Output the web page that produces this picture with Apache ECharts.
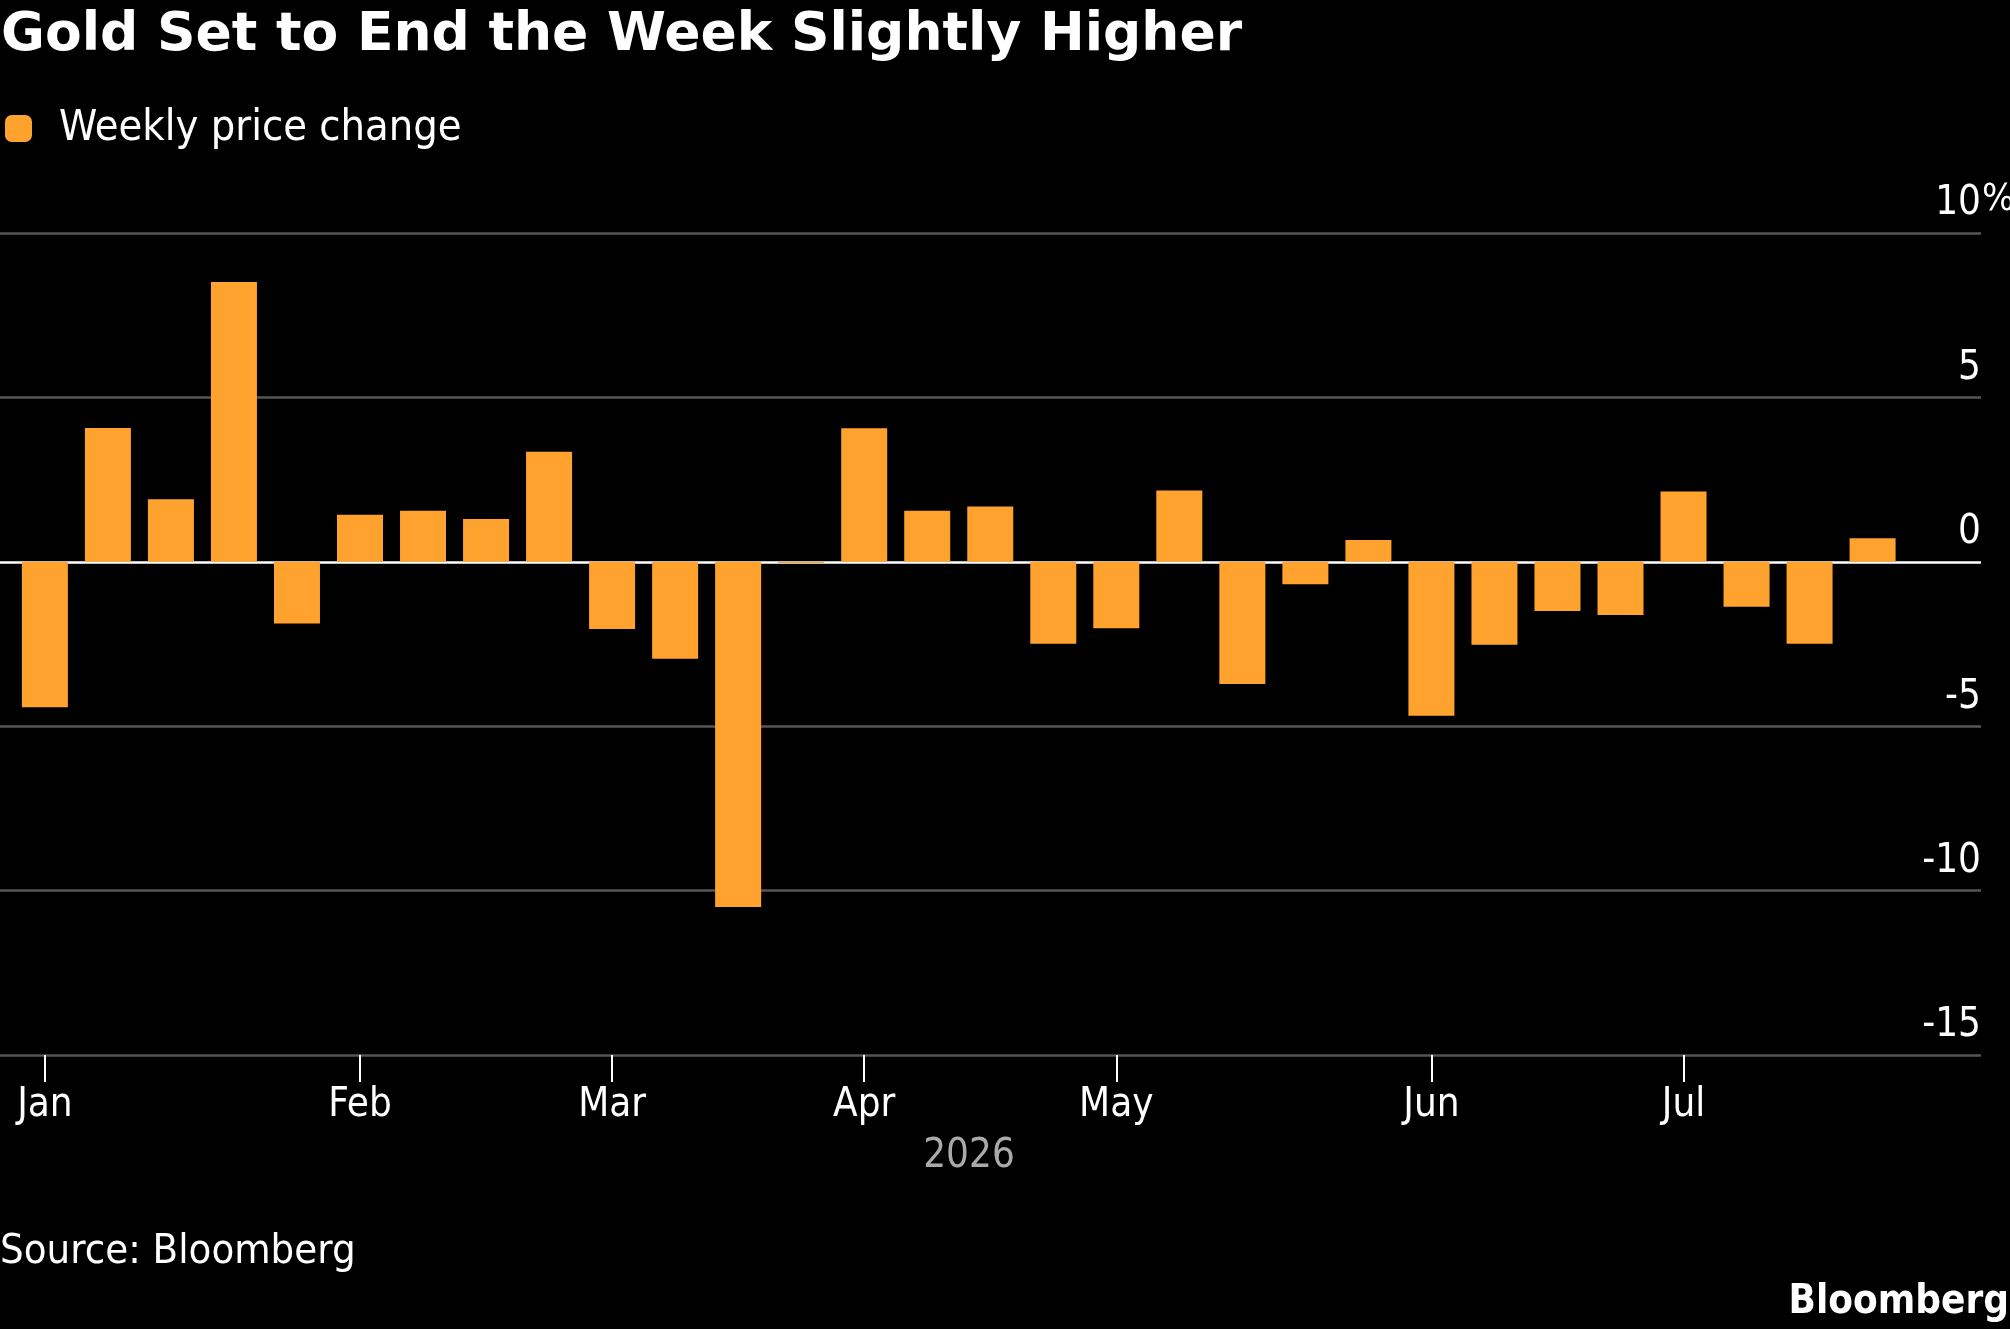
<!DOCTYPE html>
<html>
<head>
<meta charset="utf-8">
<script src="https://cdn.jsdelivr.net/npm/echarts@6/dist/echarts.min.js"></script>
<style>
  html, body { margin: 0; padding: 0; background: #000; }
  #main { width: 2010px; height: 1329px; }
</style>
</head>
<body>
<div id="main"></div>
<script>
// weekly gold price change, Fridays of 2026
const weeks = ['2026-01-02', '2026-01-09', '2026-01-16', '2026-01-23', '2026-01-30',
  '2026-02-06', '2026-02-13', '2026-02-20', '2026-02-27',
  '2026-03-06', '2026-03-13', '2026-03-20', '2026-03-27',
  '2026-04-03', '2026-04-10', '2026-04-17', '2026-04-24',
  '2026-05-01', '2026-05-08', '2026-05-15', '2026-05-22', '2026-05-29',
  '2026-06-05', '2026-06-12', '2026-06-19', '2026-06-26',
  '2026-07-03', '2026-07-10', '2026-07-17', '2026-07-24']
const changes = [-4.42, 4.07, 1.90, 8.51, -1.88,
  1.43, 1.55, 1.30, 3.35,
  -2.04, -2.95, -10.50, -0.04,
  4.06, 1.55, 1.68, -2.49,
  -2.02, 2.17, -3.72, -0.68, 0.66,
  -4.68, -2.52, -1.50, -1.62,
  2.14, -1.37, -2.49, 0.72]
const monthNames = ['Jan', 'Feb', 'Mar', 'Apr', 'May', 'Jun', 'Jul', 'Aug', 'Sep', 'Oct', 'Nov', 'Dec']

const font = '"DejaVu Sans Condensed", "Liberation Sans Narrow", "DejaVu Sans", sans-serif'

// first week of each month gets a tick
const monthIdx = []
weeks.forEach((d, i) => {
  if (i === 0 || d.slice(5, 7) !== weeks[i - 1].slice(5, 7)) monthIdx.push(i)
})

const chart = echarts.init(document.getElementById('main'))

const option = {
  backgroundColor: '#000',
  animation: false,
  title: [{
    text: 'Gold Set to End the Week Slightly Higher',
    left: -4,
    top: 4,
    textStyle: { color: '#fff', fontSize: 53.5, fontWeight: 'bold', fontFamily: '"DejaVu Sans", sans-serif' }
  }, {
    text: 'Source: Bloomberg',
    left: -5,
    top: 1226,
    textStyle: { color: '#fff', fontSize: 41.5, fontWeight: 'normal', fontFamily: font }
  }, {
    text: 'Bloomberg',
    right: -4,
    top: 1278,
    textStyle: { color: '#fff', fontSize: 40, fontWeight: 'bold', fontFamily: font }
  }, {
    text: '2026',
    left: 964,
    textAlign: 'center',
    top: 1132,
    textStyle: { color: '#aaa', fontSize: 40, fontWeight: 'normal', fontFamily: font }
  }],
  graphic: [{
    type: 'text',
    x: 1982,
    y: 200,
    style: { text: '%', fill: '#fff', fontSize: 38, fontFamily: font, verticalAlign: 'middle', align: 'left' }
  }],
  legend: {
    left: 0,
    top: 102,
    itemWidth: 27,
    itemHeight: 27,
    icon: 'roundRect',
    textStyle: { color: '#fff', fontSize: 43, fontFamily: font, padding: [0, 0, 0, 22] },
    data: ['Weekly price change']
  },
  grid: {
    left: 0,
    right: 29,
    top: 233,
    height: 822,
    containLabel: false
  },
  xAxis: {
    type: 'value',
    min: -0.712,
    max: 30.72,
    axisLine: { show: false, onZero: false },
    splitLine: { show: false },
    axisTick: {
      show: true,
      customValues: monthIdx,
      length: 27,
      lineStyle: { color: '#fff', width: 2 }
    },
    axisLabel: {
      show: true,
      customValues: monthIdx,
      margin: 31,
      color: '#fff',
      fontSize: 40,
      fontFamily: font,
      formatter: v => monthNames[+weeks[Math.round(v)].slice(5, 7) - 1]
    }
  },
  yAxis: {
    type: 'value',
    position: 'right',
    min: -15,
    max: 10,
    interval: 5,
    axisLine: { show: false },
    axisTick: { show: false },
    splitLine: {
      show: true,
      lineStyle: { color: ['#555', '#555', '#555', '#fff', '#555', '#555'], width: 2.5 }
    },
    axisLabel: {
      inside: true,
      margin: 0,
      color: '#fff',
      fontSize: 40,
      fontFamily: font,
      verticalAlign: 'bottom',
      padding: [0, 0, 9, 0]
    }
  },
  series: [{
    name: 'Weekly price change',
    type: 'bar',
    barWidth: 46,
    itemStyle: { color: '#ffa32e' },
    data: changes.map((v, i) => [i, v])
  }]
}

chart.setOption(option)
</script>
</body>
</html>
